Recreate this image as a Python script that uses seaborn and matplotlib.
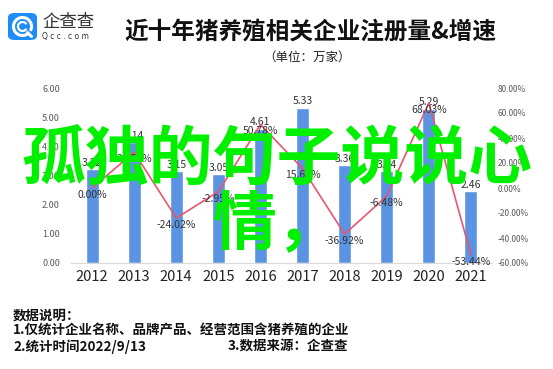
import matplotlib
matplotlib.use("Agg")
import matplotlib.pyplot as plt
import seaborn as sns
import pandas as pd
import numpy as np
from matplotlib.patches import FancyBboxPatch, Circle, Arc

years = ["2012", "2013", "2014", "2015", "2016", "2017", "2018", "2019", "2020", "2021"]
counts = [3.22, 4.14, 3.15, 3.05, 4.61, 5.33, 3.36, 3.14, 5.29, 2.46]
growth = [0.00, 28.57, -24.02, -2.95, 50.78, 15.62, -36.92, -6.48, 68.03, -53.44]
left_ticks = [0, 1, 2, 3, 4, 5, 6]
right_ticks = [-60, -40, -20, 0, 20, 40, 60, 80]

sns.set_theme(style="white")
plt.rcParams['font.family'] = ['Noto Sans CJK SC', 'DejaVu Sans']

df = pd.DataFrame({"year": years, "count": counts, "growth": growth})

fig = plt.figure(figsize=(5.53, 3.69), dpi=100)
W, H = 553, 369
ax = fig.add_axes([71 / W, 1 - 263 / H, (492 - 71) / W, (263 - 88) / H])

bar_color = "#5B94E3"
line_color = "#E8566B"

sns.barplot(data=df, x="year", y="count", color=bar_color, width=0.31,
            saturation=1, ax=ax)
ax.set_ylim(0, 6)
ax.set_yticks(left_ticks)
ax.set_yticklabels([f"{v:.2f}" for v in left_ticks], fontsize=6.5, color="#595959")
ax.set_xlabel("")
ax.set_ylabel("")
ax.tick_params(axis="x", labelsize=10.5, colors="#222222", length=0, pad=5)
ax.tick_params(axis="y", length=0, pad=8)
for s in ["top", "right", "left"]:
    ax.spines[s].set_visible(False)
ax.spines["bottom"].set_color("#D9D9D9")
ax.spines["bottom"].set_linewidth(0.8)

for i, v in enumerate(counts):
    ax.annotate(f"{v:.2f}", (i, v), xytext=(0, 1), textcoords="offset points",
                ha="center", va="bottom", fontsize=7.5, color="#333333")

ax2 = ax.twinx()
ax2.set_ylim(-60, 80)
sns.lineplot(x=np.arange(len(years)), y=growth, color=line_color, linewidth=1.2, ax=ax2)
ax2.set_yticks(right_ticks)
ax2.set_yticklabels([f"{v:.2f}%" for v in right_ticks], fontsize=6, color="#595959")
ax2.tick_params(axis="y", length=0, pad=4)
for s in ["top", "right", "left", "bottom"]:
    ax2.spines[s].set_visible(False)
ax2.set_xlim(-0.5, len(years) - 0.5)
ax.set_xlim(-0.5, len(years) - 0.5)

for i, g in enumerate(growth):
    ax2.annotate(f"{g:.2f}%", (i, g), xytext=(0, -5), textcoords="offset points",
                 ha="center", va="center", fontsize=7.5, color="#333333")

# Title
fig.text(310 / W, 1 - 32 / H, "近十年猪养殖相关企业注册量&增速", ha="center", va="center",
         fontsize=17, fontweight="bold", color="#111111")
fig.text(307 / W, 1 - 57 / H, "（单位：万家）", ha="center", va="center",
         fontsize=9, color="#222222")

# Logo (drawn with patches)
logo = FancyBboxPatch((8 / W, 1 - 40 / H), 29 / W, 27 / H,
                      boxstyle="round,pad=0,rounding_size=0.012",
                      transform=fig.transFigure, facecolor="#1E8CF5", edgecolor="none")
fig.patches.append(logo)
cx, cy = 22.5, 26.5
outer = Arc((cx / W, 1 - cy / H), 18 / W, 18 / H, theta1=-40, theta2=300,
            transform=fig.transFigure, color="white", linewidth=2.2)
inner = Arc((cx / W, 1 - cy / H), 9 / W, 9 / H, theta1=40, theta2=320,
            transform=fig.transFigure, color="white", linewidth=1.6)
fig.patches.append(outer)
fig.patches.append(inner)
fig.lines.append(plt.Line2D([(cx + 5) / W, (cx + 9) / W], [1 - (cy + 6) / H, 1 - (cy + 10) / H],
                            transform=fig.transFigure, color="white", linewidth=2.2))
fig.text(42 / W, 1 - 22 / H, "企查查", ha="left", va="center", fontsize=12.5, color="#333333")
fig.text(42 / W, 1 - 36 / H, "Q c c . c o m", ha="left", va="center", fontsize=5.5,
         color="#333333", family=["DejaVu Sans"])

# Footer
fig.text(13 / W, 1 - 316 / H, "数据说明：", ha="left", va="center", fontsize=9.7,
         fontweight="bold", color="#111111")
fig.text(13 / W, 1 - 331 / H, "1.仅统计企业名称、品牌产品、经营范围含猪养殖的企业", ha="left",
         va="center", fontsize=9.7, fontweight="bold", color="#111111")
fig.text(13 / W, 1 - 347 / H, "2.统计时间2022/9/13", ha="left", va="center",
         fontsize=9.7, fontweight="bold", color="#111111")
fig.text(228 / W, 1 - 347 / H, "3.数据来源：企查查", ha="left", va="center",
         fontsize=9.7, fontweight="bold", color="#111111")

# Overlay text
green = "#00F000"
fig.text(277 / W, 1 - 160 / H, "孤独的句子说说心", ha="center", va="center",
         fontsize=46, fontweight="bold", color=green)
fig.text(277 / W, 1 - 224 / H, "情，", ha="center", va="center",
         fontsize=46, fontweight="bold", color=green)

fig.savefig("out.png", dpi=100)
